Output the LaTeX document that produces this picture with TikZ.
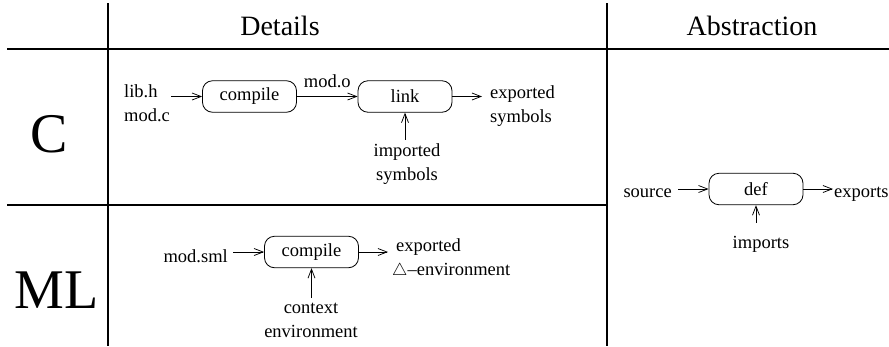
\documentclass[tikz,border=0pt]{standalone}
\usepackage{fontspec}
\setmainfont{Liberation Serif}
\usetikzlibrary{arrows.meta}
\newcommand\labfont{\fontsize{18.5}{24}\selectfont}
\tikzset{
  rule/.style={line width=1.1pt},
  proc/.style={draw, line width=0.8pt, rounded corners=10pt, minimum width=94pt,
    minimum height=31.5pt, inner sep=0pt, font=\labfont},
  lbl/.style={inner sep=0pt, font=\labfont},
  hdr/.style={inner sep=0pt, font=\fontsize{28}{32}\selectfont},
  big/.style={inner sep=0pt, font=\fontsize{56}{60}\selectfont},
  arr/.style={line width=0.75pt, -{Straight Barb[length=9pt,width=7pt]}},
}
\begin{document}
\begin{tikzpicture}[x=1pt,y=-1pt]
\useasboundingbox (0,0) rectangle (889,346);

% table rules
\draw[rule] (108,3) -- (108,346);
\draw[rule] (607,3) -- (607,346);
\draw[rule] (7,49) -- (889,49);
\draw[rule] (7,205) -- (607,205);

% column and row headings
\node[hdr, anchor=base] (hd) at (280,35) {Details};
\node[hdr, anchor=base] (ha) at (752,35) {Abstraction};
\node[big, anchor=base] (rc) at (49.5,152) {C};
\node[big, anchor=base] (rml) at (56.5,308) {ML};

% C: compile and link
\node[proc] (cc) at (249.5,96.5) {compile};
\node[proc] (lk) at (405,96.5) {link};
\node[lbl, align=left, anchor=west] (csrc) at (124,103) {lib.h\\mod.c};
\coordinate (cin) at (171,96.5);
\draw[arr] (cin) -- (cc.west);
\draw[arr] (cc.east) -- node[lbl, above=8pt] (modo) {mod.o} (lk.west);
\node[lbl, align=left, anchor=west, inner xsep=8pt] (cexp) at (482,106.5) {exported\\symbols};
\draw[arr] (lk.east) -- (cexp.west |- lk.east);
\node[lbl, align=center, inner ysep=4pt] (cimp) at (407,164.5) {imported\\symbols};
\draw[arr] (lk.south |- cimp.north) -- (lk.south);

% ML: compile
\node[proc] (cm) at (311.5,252) {compile};
\node[lbl, anchor=base east, inner xsep=5pt] (msml) at (233,262) {mod.sml};
\draw[arr] (msml.east |- cm.west) -- (cm.west);
\node[lbl, align=left, anchor=west, inner xsep=4pt] (mexp) at (388,258.5) {\kern4pt exported\\$\triangle$--environment};
\draw[arr] (cm.east) -- (mexp.west |- cm.east);
\node[lbl, align=center, inner ysep=5pt] (ctx) at (311,320.5) {context\\environment};
\draw[arr] (cm.south |- ctx.north) -- (cm.south);

% abstraction: def
\node[proc] (df) at (756,189) {def};
\node[lbl, anchor=base east, inner xsep=6pt] (asrc) at (678,197) {source};
\draw[arr] (asrc.east |- df.west) -- (df.west);
\node[lbl, anchor=base west, inner xsep=1pt] (aexp) at (833,197) {exports};
\draw[arr] (df.east) -- (aexp.west |- df.east);
\node[lbl, anchor=base, inner ysep=13pt] (aimp) at (761,248) {imports};
\draw[arr] (df.south |- aimp.north) -- (df.south);
\end{tikzpicture}
\end{document}
